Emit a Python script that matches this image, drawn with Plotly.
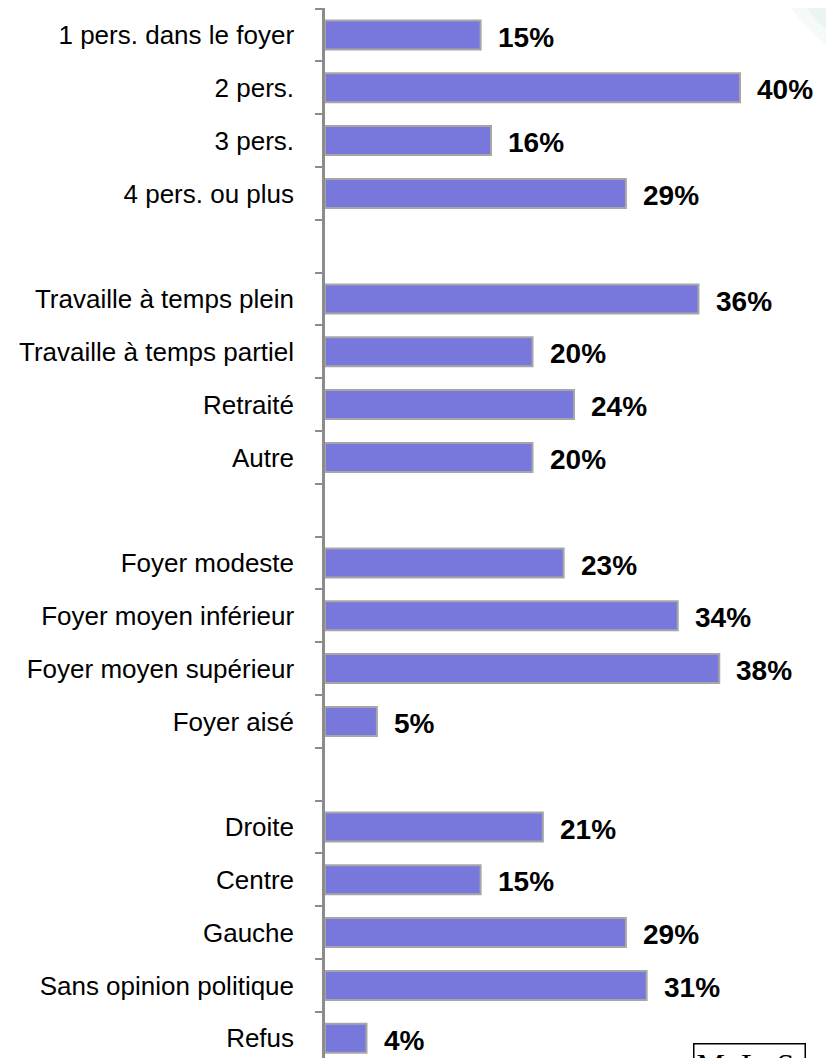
import plotly.graph_objects as go

categories = [
    "1 pers. dans le foyer", "2 pers.", "3 pers.", "4 pers. ou plus", " ",
    "Travaille à temps plein", "Travaille à temps partiel", "Retraité", "Autre", "  ",
    "Foyer modeste", "Foyer moyen inférieur", "Foyer moyen supérieur", "Foyer aisé", "   ",
    "Droite", "Centre", "Gauche", "Sans opinion politique", "Refus",
]
values = [15, 40, 16, 29, None,
          36, 20, 24, 20, None,
          23, 34, 38, 5, None,
          21, 15, 29, 31, 4]
value_labels = [f"{v}%" if v is not None else "" for v in values]

# page body has an 8px margin: the figure is drawn 8px right/down of the window corner
OFF = 8
W, H = 834 - OFF, 1058 - OFF
ML, MT, MB, MR = 325 - OFF, 0, 0, 0
plot_w = W - ML - MR
plot_h = H - MT - MB
px_per_pct = 10.375
x_max = plot_w / px_per_pct
slot_px = 52.8
y_top = -0.5 - (8.6 - OFF) / slot_px
y_bot = y_top + plot_h / slot_px

FONT = "Liberation Sans, Arial, sans-serif"

fig = go.Figure()
fig.add_trace(go.Bar(
    y=categories, x=values, orientation="h",
    marker=dict(color="#7878DC", line=dict(color="#A6A6A6", width=2)),
    width=0.55, hoverinfo="skip",
))

annotations = []
for c, v, t in zip(categories, values, value_labels):
    if v is None:
        continue
    annotations.append(dict(
        x=v, y=c, xref="x", yref="y", text=f"<b>{t}</b>", showarrow=False,
        xanchor="left", yanchor="middle", xshift=15, yshift=-2,
        font=dict(family=FONT, size=28, color="#000000"),
    ))

def px2paper(px_x, px_y):
    # screen px -> paper coords
    fx, fy = px_x - OFF, px_y - OFF
    return (fx - ML) / plot_w, (H - MB - fy) / plot_h

# M. L. S box (cut off at bottom)
bx, by = px2paper(693, 1043)
annotations.append(dict(
    x=bx, y=by, xref="paper", yref="paper", text="M. L. S.", showarrow=False,
    xanchor="left", yanchor="top", bordercolor="#000000", borderwidth=1.5, borderpad=2,
    font=dict(family="Liberation Serif, Times New Roman, serif", size=32, color="#000000"),
))

# soft teal glow top right
shapes = []
cx, cy = 1000, -150
for r, op in [(262, 0.10), (250, 0.12), (235, 0.14), (215, 0.16), (190, 0.18)]:
    x0, y1 = px2paper(cx - r, cy - r)
    x1, y0 = px2paper(cx + r, cy + r)
    shapes.append(dict(type="circle", xref="paper", yref="paper",
                       x0=x0, x1=x1, y0=y0, y1=y1, layer="below",
                       fillcolor=f"rgba(160,210,195,{op})", line=dict(width=0)))

fig.update_layout(
    width=W, height=H,
    margin=dict(l=ML, r=MR, t=MT, b=MB, autoexpand=False),
    paper_bgcolor="#FFFFFF", plot_bgcolor="rgba(0,0,0,0)",
    showlegend=False,
    annotations=annotations,
    shapes=shapes,
    bargap=0.45,
)
fig.update_xaxes(range=[0, x_max], visible=False, showgrid=False, zeroline=False, automargin=False)
fig.update_yaxes(
    type="category", categoryorder="array", categoryarray=categories,
    range=[y_bot, y_top], automargin=False,
    tickson="boundaries", ticks="outside", ticklen=7, tickwidth=2, tickcolor="#8C8C8C",
    showline=True, linecolor="#8C8C8C", linewidth=2.5,
    showgrid=False, zeroline=False,
    ticklabelstandoff=23,
    tickfont=dict(family=FONT, size=26, color="#000000"),
)

fig.write_html("out.html")
